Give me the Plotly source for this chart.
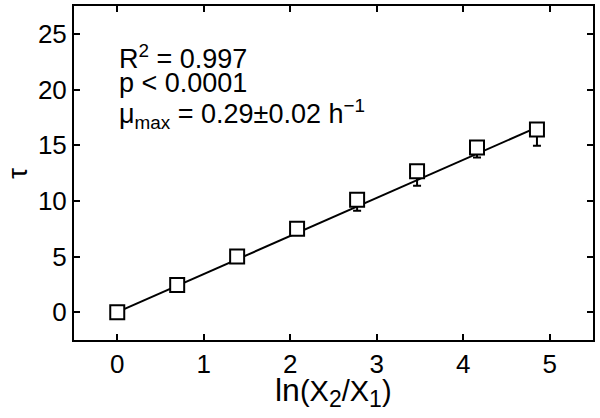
import plotly.graph_objects as go

x_vals = [0.0, 0.693, 1.386, 2.079, 2.773, 3.466, 4.159, 4.852]
tau_vals = [0.0, 2.43, 5.0, 7.5, 10.1, 12.65, 14.8, 16.4]
tau_err_minus = [0.0, 0.2, 0.3, 0.4, 1.0, 1.3, 0.9, 1.45]
fit_x = [0.0, 4.852]
fit_y = [0.0, 16.6]
x_ticks = [0, 1, 2, 3, 4, 5]
y_ticks = [0, 5, 10, 15, 20, 25]

FONT = "Liberation Sans, Arial, Helvetica, sans-serif"

fig = go.Figure()
fig.add_trace(go.Scatter(x=fit_x, y=fit_y, mode="lines",
                         line=dict(color="black", width=2), showlegend=False))
fig.add_trace(go.Scatter(
    x=x_vals, y=tau_vals, mode="markers",
    marker=dict(symbol="square", size=14, color="white", line=dict(width=2, color="black")),
    error_y=dict(type="data", symmetric=False, array=[0]*len(tau_vals),
                 arrayminus=tau_err_minus, color="black", thickness=2, width=4),
    showlegend=False))

axis_common = dict(showline=True, linecolor="black", linewidth=2, mirror="ticks",
                   ticks="inside", ticklen=6, tickwidth=1.5, tickcolor="black",
                   showgrid=False, zeroline=False, automargin=False,
                   tickfont=dict(family=FONT, size=26, color="black"))

fig.update_xaxes(range=[-0.5, 5.5], tickvals=x_ticks, **axis_common)
fig.update_yaxes(range=[-2.5, 27.5], tickvals=y_ticks, **axis_common)

# axis titles as annotations
fig.add_annotation(x=0.5, y=-0.09, xref="paper", yref="paper", xanchor="center", yanchor="top",
                   text=("<span style='font-size:32px'>ln</span>(X<sub><span style='font-size:23px'>2</span></sub>"
                         "/X<sub><span style='font-size:23px'>1</span></sub>)"),
                   showarrow=False, font=dict(family=FONT, size=29, color="black"))
fig.add_annotation(x=-0.11, y=0.5, xref="paper", yref="paper", xanchor="center", yanchor="middle",
                   text="τ", textangle=-90, showarrow=False,
                   font=dict(family=FONT, size=28, color="black"))

ann_font = dict(family=FONT, size=27, color="black")
fig.add_annotation(x=0, y=22.9, xref="x", yref="y", xanchor="left", yanchor="middle",
                   text="R<sup>2</sup> = 0.997", showarrow=False, font=ann_font)
fig.add_annotation(x=0, y=20.6, xref="x", yref="y", xanchor="left", yanchor="middle",
                   text="p < 0.0001", showarrow=False, font=ann_font)
fig.add_annotation(x=0, y=17.8, xref="x", yref="y", xanchor="left", yanchor="middle",
                   text="μ<sub>max</sub> = 0.29±0.02 h<sup>−1</sup>", showarrow=False,
                   font=ann_font)

fig.update_layout(width=600, height=418, margin=dict(l=74, r=7, t=6, b=78),
                  paper_bgcolor="white", plot_bgcolor="white",
                  font=dict(family=FONT, color="black"))
fig.write_html("out.html", config={"displayModeBar": False},
               post_script="document.body.style.margin='0px';")
